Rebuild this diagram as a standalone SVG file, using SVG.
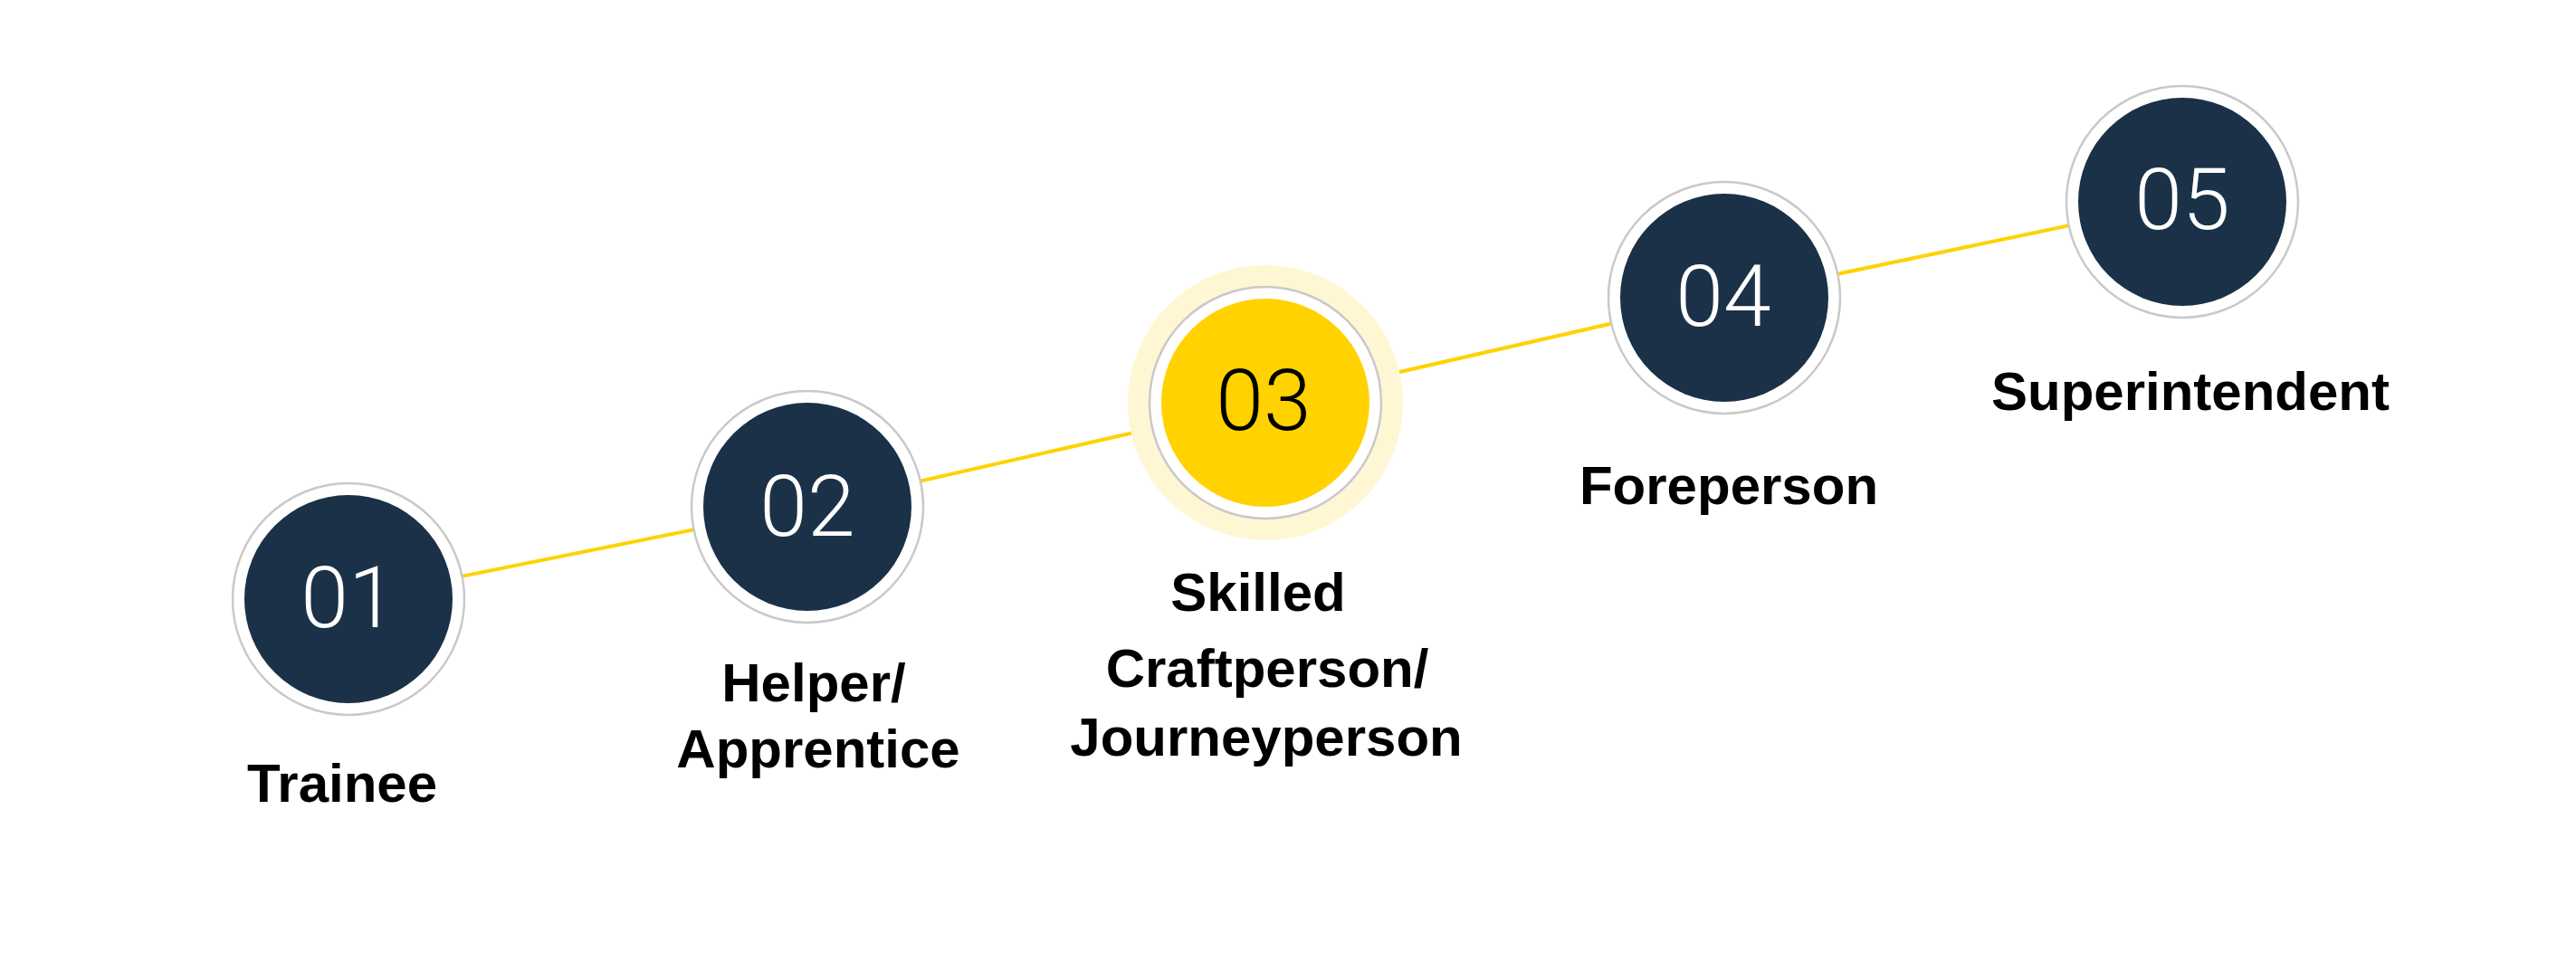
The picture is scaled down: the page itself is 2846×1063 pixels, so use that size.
<svg xmlns="http://www.w3.org/2000/svg" width="2846" height="1063" viewBox="0 0 2846 1063">
  <style>
    .ring { fill: #ffffff; stroke: #c9c9c9; stroke-width: 2.5; }
    .dark { fill: #1b3147; }
    .gold { fill: #ffd200; }
    .halo { fill: #fff6d4; }
    .num { font-family: Roboto, "Liberation Sans", sans-serif; font-weight: 300; font-size: 95px; text-anchor: middle; }
    .num-light { fill: #ffffff; }
    .num-dark { fill: #000000; }
    .label { font-family: "Liberation Sans", Arial, sans-serif; font-weight: 700; font-size: 60px; fill: #000000; text-anchor: middle; }
    .conn { stroke: #ffd200; stroke-width: 4; fill: none; }
  </style>
  <rect width="2846" height="1063" fill="#ffffff"/>
  <g id="connectors">
    <line class="conn" x1="385" y1="662" x2="892" y2="560"/>
    <line class="conn" x1="892" y1="560" x2="1398" y2="445"/>
    <line class="conn" x1="1398" y1="445" x2="1905" y2="329"/>
    <line class="conn" x1="1905" y1="329" x2="2411" y2="223"/>
  </g>
  <g id="node-01">
    <circle class="ring" cx="385" cy="662" r="128"/>
    <circle class="dark" cx="385" cy="662" r="115"/>
    <text class="num num-light" x="385" y="693">01</text>
    <text class="label" x="378" y="886">Trainee</text>
  </g>
  <g id="node-02">
    <circle class="ring" cx="892" cy="560" r="128"/>
    <circle class="dark" cx="892" cy="560" r="115"/>
    <text class="num num-light" x="892" y="592">02</text>
    <text class="label" x="899" y="775">Helper/</text>
    <text class="label" x="904" y="848">Apprentice</text>
  </g>
  <g id="node-03">
    <circle class="halo" cx="1398" cy="445" r="152"/>
    <circle class="ring" cx="1398" cy="445" r="128"/>
    <circle class="gold" cx="1398" cy="445" r="115"/>
    <text class="num num-dark" x="1396" y="475">03</text>
    <text class="label" x="1390" y="675">Skilled</text>
    <text class="label" x="1400" y="759">Craftperson/</text>
    <text class="label" x="1399" y="835">Journeyperson</text>
  </g>
  <g id="node-04">
    <circle class="ring" cx="1905" cy="329" r="128"/>
    <circle class="dark" cx="1905" cy="329" r="115"/>
    <text class="num num-light" x="1904" y="360">04</text>
    <text class="label" x="1910" y="557">Foreperson</text>
  </g>
  <g id="node-05">
    <circle class="ring" cx="2411" cy="223" r="128"/>
    <circle class="dark" cx="2411" cy="223" r="115"/>
    <text class="num num-light" x="2411" y="253">05</text>
    <text class="label" x="2420" y="453">Superintendent</text>
  </g>
</svg>
